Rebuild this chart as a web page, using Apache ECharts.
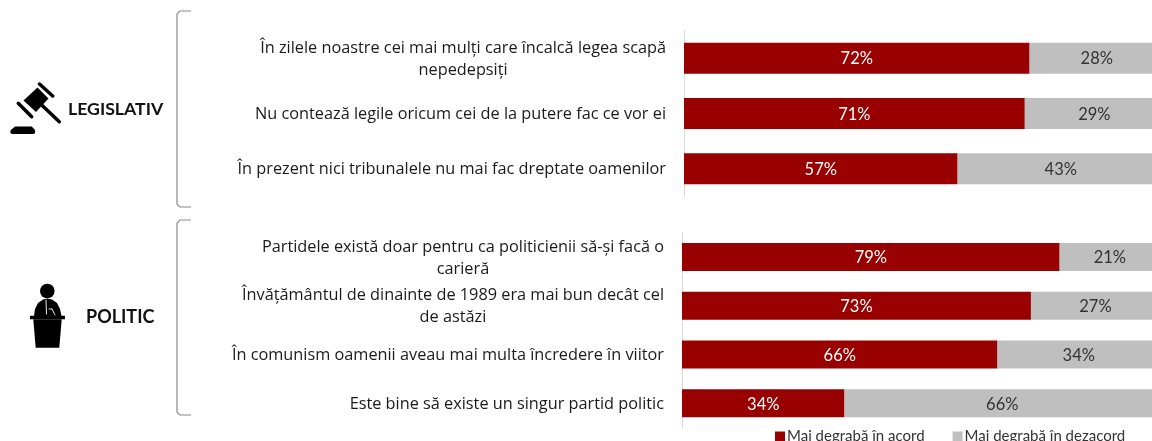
<!DOCTYPE html>
<html><head><meta charset="utf-8">
<style>html,body{margin:0;padding:0;background:#fff}#c{width:1152px;height:441px}</style>
<script src="https://cdn.jsdelivr.net/npm/echarts@6/dist/echarts.min.js"></script>
</head><body><div id="c"></div>
<script>
const categoriesLegislativ = [
  "În zilele noastre cei mai mulți care încalcă legea scapă\nnepedepsiți",
  "Nu contează legile oricum cei de la putere fac ce vor ei",
  "În prezent nici tribunalele nu mai fac dreptate oamenilor"
];
const acordLegislativ = [72, 71, 57];
const dezacordLegislativ = [28, 29, 43];
const categoriesPolitic = [
  "Partidele există doar pentru ca politicienii să-și facă o\ncarieră",
  "Învățământul de dinainte de 1989 era mai bun decât cel\nde astăzi",
  "În comunism oamenii aveau mai multa încredere în viitor",
  "Este bine să existe un singur partid politic"
];
const acordPolitic = [79, 73, 66, 34];
const dezacordPolitic = [21, 27, 34, 66];
const seriesNames = ["Mai degrabă în acord", "Mai degrabă în dezacord"];
const groupNames = ["LEGISLATIV", "POLITIC"];

const FONT = "Lato";
const LABEL_FONT = "Open Sans";
const RED = "#990000", GREY = "#BFBFBF";
const lineStyle = {color:"#1a1a1a", fontFamily:LABEL_FONT, fontSize:16.3, lineHeight:22, align:"center"};
function yAxis(cats, gi){
  return {type:"category", gridIndex:gi, inverse:true, data:cats,
    axisTick:{show:false},
    axisLine:{show:true, lineStyle:{color:"#D9D9D9", width:1}},
    axisLabel:{color:"#1a1a1a", fontFamily:LABEL_FONT, fontSize:16.3, lineHeight:22, align:"right", margin:18, padding:[2,0,0,0],
      formatter:v => v.split("\n").map(s => "{l|" + s + "}").join("\n"),
      rich:{l:lineStyle}}};
}
function xAxis(gi){
  return {type:"value", gridIndex:gi, min:0, max:100, show:false};
}
function bar(name, data, gi, color, labelColor, bw){
  return {type:"bar", name, stack:"s"+gi, xAxisIndex:gi, yAxisIndex:gi, data, barWidth:bw,
    itemStyle:{color},
    label:{show:true, position:"inside", offset:[0,1], formatter:"{c}%", color:labelColor, fontFamily:FONT, fontSize:16.5}};
}
function poly(points, fill){ return {type:"polygon", shape:{points}, style:{fill:fill||"#000"}}; }
function seg(x1,y1,x2,y2,w,color){ return {type:"line", shape:{x1,y1,x2,y2}, style:{stroke:color||"#000", lineWidth:w, lineCap:"round"}}; }
const chart = echarts.init(document.getElementById("c"), null, {renderer:"canvas"});
chart.setOption({
  animation:false,
  backgroundColor:"#fff",
  legend:{data:seriesNames, left:770, top:424, itemWidth:10, itemHeight:10, itemGap:28, icon:"rect",
    textStyle:{color:"#333", fontFamily:FONT, fontSize:15, padding:[0,0,0,-3]}},
  grid:[
    {left:684, top:30.5, width:480, height:166, outerBoundsMode:"none"},
    {left:682, top:232.7, width:478, height:195, outerBoundsMode:"none"}
  ],
  xAxis:[xAxis(0), xAxis(1)],
  yAxis:[yAxis(categoriesLegislativ,0), yAxis(categoriesPolitic,1)],
  series:[
    bar(seriesNames[0], acordLegislativ, 0, RED, "#fff", 31),
    bar(seriesNames[1], dezacordLegislativ, 0, GREY, "#333", 31),
    bar(seriesNames[0], acordPolitic, 1, RED, "#fff", 28),
    bar(seriesNames[1], dezacordPolitic, 1, GREY, "#333", 28)
  ],
  graphic:[
    {type:"polyline", shape:{points:[[191,11],[180,11],[177,14],[177,204],[180,207],[191,207]]}, style:{stroke:"#8c8c8c", lineWidth:1.2, fill:null}},
    {type:"polyline", shape:{points:[[191,220],[180,220],[177,223],[177,412],[180,415],[191,415]]}, style:{stroke:"#8c8c8c", lineWidth:1.2, fill:null}},
    {type:"text", x:68, y:100, style:{text:groupNames[0], font:"bold 17.7px "+FONT, fill:"#111"}},
    {type:"text", x:86, y:308, style:{text:groupNames[1], font:"bold 18px "+FONT, fill:"#111"}},
    seg(39.5,84,52.7,96,3.5),
    seg(18.3,103.3,31.7,116.7,3.5),
    poly([[37.5,87.5],[48.5,98.5],[36,112],[23.5,100.5]]),
    seg(41.7,105,59.3,121.7,3.5),
    seg(12.5,131.7,33,131.7,4.5),
    poly([[15,126.5],[31.7,126.5],[35,130],[11,130]]),
    {type:"circle", shape:{cx:47.3, cy:291, r:7.3}, style:{fill:"#000"}},
    poly([[34,316],[35,309],[38,303],[43,299.5],[47,298.5],[52,299.5],[57,303],[60,309],[61.5,316]]),
    seg(46,300,46.5,314,0.9,"#fff"),
    seg(49,309,52,309,0.9,"#fff"),
    seg(52,309,55,315,0.9,"#fff"),
    {type:"rect", shape:{x:30, y:315.7, width:35, height:3.6}, style:{fill:"#000"}},
    poly([[33.3,319.3],[61.7,319.3],[59.3,347.7],[35.7,347.7]])
  ]
});
</script></body></html>
